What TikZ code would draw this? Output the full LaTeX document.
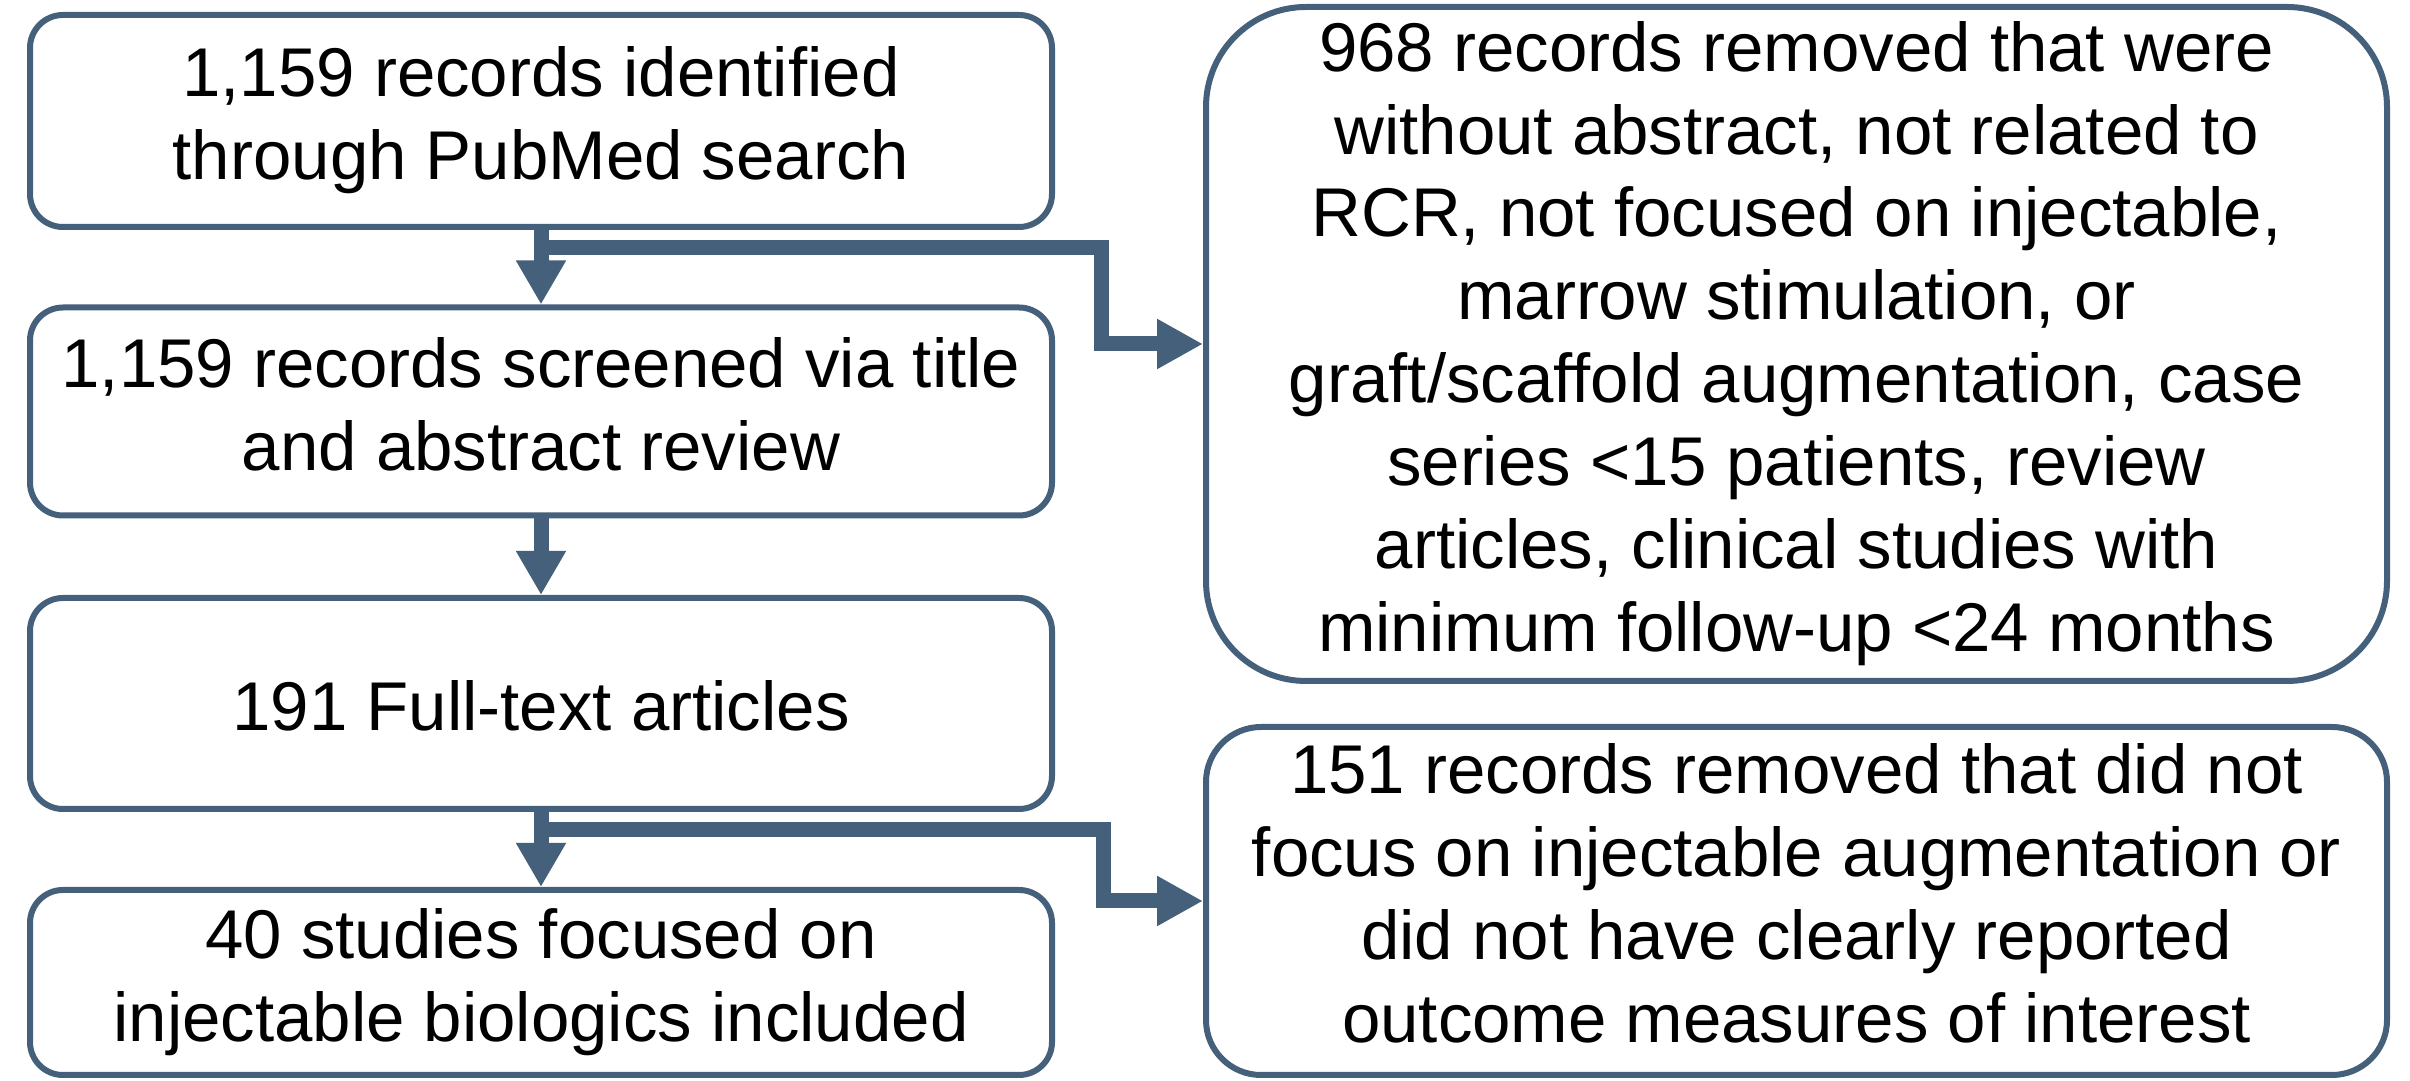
\documentclass[tikz,border=0pt]{standalone}
\usepackage{fontspec}
\setmainfont{Liberation Sans}
\usepackage{xcolor}
\usepackage{tikz}
\usetikzlibrary{positioning,calc,arrows.meta}
\definecolor{boxline}{HTML}{44607A}

\begin{document}
\begin{tikzpicture}[
  box/.style={draw=boxline, line width=0.06cm, rounded corners=0.33cm, align=center, inner sep=0pt,
    minimum width=10.22cm, font=\fontsize{19.63pt}{23.6pt}\selectfont,
    execute at begin node={\rule{0pt}{0.99em}}, execute at end node={\rule[-0.22em]{0pt}{0.22em}}},
  sidebox/.style={box, minimum width=11.81cm},
  flow/.style={draw=boxline, line width=0.15cm, -{Triangle[length=0.44cm, width=0.47cm]}},
  branch/.style={flow, line join=miter, -{Triangle[length=0.46cm, width=0.47cm]}}
]
  \useasboundingbox (0,0) rectangle (24.10,-10.81);

  % LEFT COLUMN
  \node[box, minimum height=2.12cm] (b1) at (5.41,-1.21) {1,159 records identified\\through PubMed search};
  \node[box, minimum height=2.08cm] (b2) at (5.41,-4.115) {1,159 records screened via title\\and abstract review};
  \node[box, minimum height=2.11cm] (b3) at (5.41,-7.035) {191 Full-text articles};
  \node[box, minimum height=1.85cm] (b4) at (5.41,-9.825) {40 studies focused on\\injectable biologics included};

  % RIGHT COLUMN
  \node[sidebox, rounded corners=1.0cm, minimum height=6.74cm] (r1) at (17.965,-3.44)
    {968 records removed that were\\without abstract, not related to\\RCR, not focused on injectable,\\marrow stimulation, or\\graft/scaffold augmentation, case\\series <15 patients, review\\articles, clinical studies with\\minimum follow-up <24 months};
  \node[sidebox, rounded corners=0.55cm, minimum height=3.48cm] (r2) at (17.965,-9.01)
    {151 records removed that did not\\focus on injectable augmentation or\\did not have clearly reported\\outcome measures of interest};

  % Main flow
  \draw[flow] (b1) -- (b2);
  \draw[flow] (b2) -- (b3);
  \draw[flow] (b3) -- (b4);

  % Exclusion branches
  \coordinate (j1) at (5.41,-2.48);
  \coordinate (k1) at (11.01,-2.48);
  \draw[branch] (j1) -- (k1) |- (r1.west);
  \coordinate (j2) at (5.41,-8.30);
  \coordinate (k2) at (11.03,-8.30);
  \draw[branch] (j2) -- (k2) |- (r2.west);
\end{tikzpicture}
\end{document}
